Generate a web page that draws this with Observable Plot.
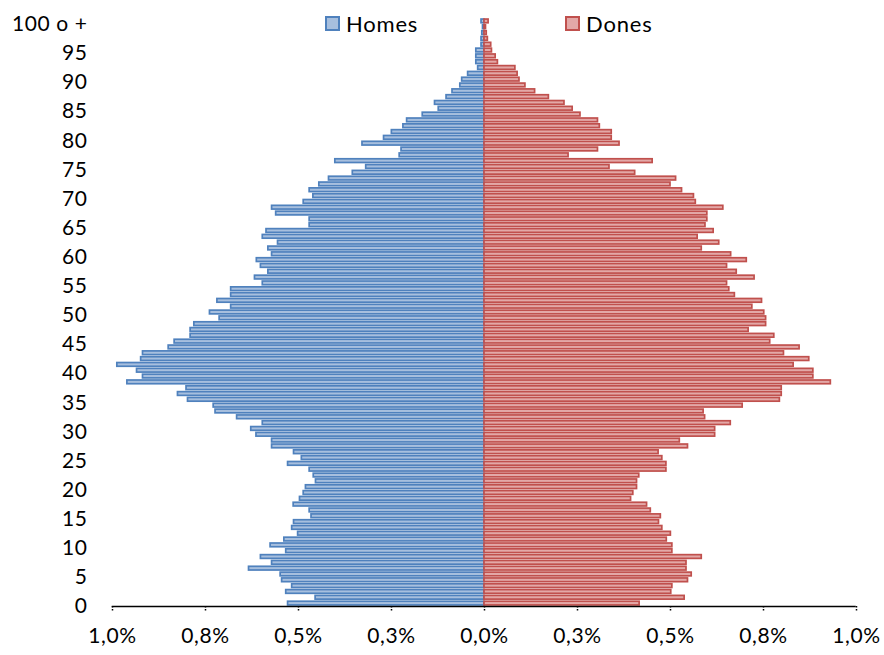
<!DOCTYPE html>
<html>
<head>
<meta charset="utf-8">
<script src="https://cdn.jsdelivr.net/npm/d3@7"></script>
<script src="https://cdn.jsdelivr.net/npm/@observablehq/plot@0.6"></script>
<style>
  html, body { margin: 0; padding: 0; background: #fff; }
  #wrap { position: relative; width: 884px; height: 655px; font-family: Lato, "Open Sans", sans-serif; }
  #wrap svg text { letter-spacing: 0.6px; }
  .leg { position: absolute; top: 10px; display: flex; align-items: center; font-size: 22px; color: #000; letter-spacing: 0.8px; }
  .sw { width: 11px; height: 11px; border: 2px solid; margin-right: 6px; }
</style>
</head>
<body>
<div id="wrap"></div>
<script>
// Ages 0..100 (100 = "100 o +")
const ages = d3.range(0, 101);
// Percentage of population, men (Homes), by age 0..100
const men = [0.528,0.454,0.533,0.517,0.544,0.548,0.633,0.571,0.601,0.533,
  0.575,0.538,0.501,0.517,0.512,0.465,0.470,0.513,0.496,0.486,
  0.480,0.453,0.459,0.470,0.528,0.491,0.512,0.571,0.571,0.613,
  0.627,0.596,0.665,0.723,0.728,0.797,0.824,0.801,0.960,0.918,
  0.934,0.987,0.923,0.918,0.849,0.833,0.790,0.790,0.780,0.712,
  0.738,0.681,0.718,0.681,0.681,0.596,0.617,0.581,0.601,0.612,
  0.571,0.581,0.555,0.596,0.586,0.470,0.470,0.560,0.571,0.486,
  0.460,0.470,0.444,0.418,0.354,0.318,0.401,0.228,0.223,0.328,
  0.270,0.249,0.218,0.208,0.166,0.123,0.133,0.102,0.086,0.065,
  0.060,0.044,0.017,0.022,0.022,0.022,0.008,0.008,0.006,0.004,
  0.008];
// Percentage of population, women (Dones), by age 0..100
const women = [0.417,0.538,0.502,0.505,0.547,0.557,0.543,0.543,0.584,0.505,
  0.505,0.490,0.501,0.478,0.469,0.474,0.447,0.437,0.394,0.400,
  0.410,0.410,0.416,0.489,0.489,0.478,0.468,0.547,0.525,0.620,
  0.620,0.662,0.593,0.589,0.694,0.794,0.799,0.799,0.931,0.884,
  0.884,0.831,0.873,0.805,0.847,0.768,0.779,0.710,0.757,0.757,
  0.752,0.720,0.746,0.673,0.658,0.652,0.726,0.678,0.652,0.705,
  0.663,0.584,0.631,0.573,0.616,0.594,0.599,0.599,0.642,0.568,
  0.563,0.531,0.500,0.515,0.405,0.336,0.452,0.226,0.305,0.363,
  0.342,0.342,0.310,0.305,0.258,0.237,0.215,0.173,0.136,0.110,
  0.094,0.089,0.083,0.036,0.030,0.020,0.018,0.009,0.006,0.004,
  0.011];
const seriesNames = ["Homes", "Dones"];
const xTickValues = [-1, -0.75, -0.5, -0.25, 0, 0.25, 0.5, 0.75, 1];
const xTickLabels = ["1,0%", "0,8%", "0,5%", "0,3%", "0,0%", "0,3%", "0,5%", "0,8%", "1,0%"];
const yTickValues = [0,5,10,15,20,25,30,35,40,45,50,55,60,65,70,75,80,85,90,95,100];
const yTickLabels = ["0","5","10","15","20","25","30","35","40","45","50","55","60","65","70","75","80","85","90","95","100 o +"];

const colors = {
  Homes: {fill: "#a7bfde", stroke: "#4f81bd"},
  Dones: {fill: "#e3a8a7", stroke: "#c0504d"}
};

const rows = ages.map((a, i) => ({age: a, men: men[i], women: women[i]}));

const chart = Plot.plot({
  width: 884,
  height: 655,
  marginLeft: 112,
  marginRight: 28,
  marginTop: 18,
  marginBottom: 49,
  style: {fontFamily: "Lato, 'Open Sans', sans-serif", fontSize: "21px", color: "#000", background: "transparent", overflow: "visible"},
  x: {domain: [-1, 1], label: null},
  y: {type: "band", domain: ages.slice().reverse(), paddingInner: 0.36, paddingOuter: 0.18, label: null},
  marks: [
    Plot.barX(rows, {y: "age", x1: 0, x2: d => -d.men, fill: colors.Homes.fill, stroke: colors.Homes.stroke, strokeWidth: 1.7}),
    Plot.barX(rows, {y: "age", x1: 0, x2: d => d.women, fill: colors.Dones.fill, stroke: colors.Dones.stroke, strokeWidth: 1.7}),
    Plot.frame({anchor: "bottom", stroke: "#000", strokeWidth: 1.5, strokeDasharray: "1.5,1.5"}),
    Plot.axisX({ticks: xTickValues, tickSize: 5, tickPadding: 17, stroke: "#000", strokeWidth: 1.5, strokeDasharray: "1.5,1.5",
      tickFormat: d => xTickLabels[xTickValues.indexOf(d)], fill: "#000", label: null, fontSize: 21}),
    Plot.axisY({ticks: yTickValues, tickSize: 0, tickPadding: 25, dy: 3,
      tickFormat: d => yTickLabels[yTickValues.indexOf(d)], fill: "#000", label: null, fontSize: 21})
  ]
});

const wrap = document.getElementById("wrap");
wrap.appendChild(chart);

const legendPos = {Homes: 325, Dones: 565};
for (const name of seriesNames) {
  const el = document.createElement("div");
  el.className = "leg";
  el.style.left = legendPos[name] + "px";
  const sw = document.createElement("div");
  sw.className = "sw";
  sw.style.background = colors[name].fill;
  sw.style.borderColor = colors[name].stroke;
  const tx = document.createElement("span");
  tx.textContent = name;
  el.appendChild(sw);
  el.appendChild(tx);
  wrap.appendChild(el);
}
</script>
</body>
</html>
